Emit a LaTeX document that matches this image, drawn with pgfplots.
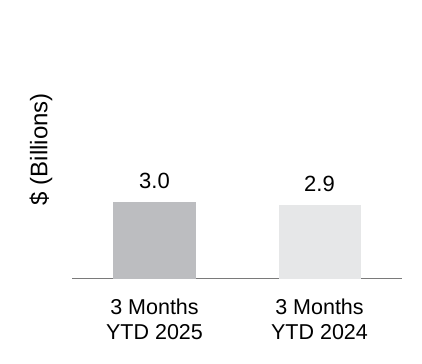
\documentclass[border=0pt]{standalone}
\usepackage{pgfplots}
\pgfplotsset{compat=1.18}
\usepackage{fontspec}
\setmainfont{Liberation Sans}
\definecolor{barA}{HTML}{BCBDC0}
\definecolor{barB}{HTML}{E6E7E8}
\definecolor{axisgray}{HTML}{7A7A7A}
\begin{document}
\begin{tikzpicture}
\path[use as bounding box] (0,0) rectangle (422bp,364bp);
\begin{axis}[
  at={(72bp,85.5bp)}, anchor=south west,
  scale only axis, width=330bp, height=259bp,
  xmin=-0.5, xmax=1.5, ymin=0, ymax=10.16,
  axis x line=bottom, axis y line=left,
  x axis line style={-, draw=axisgray, line width=1.3bp},
  y axis line style={draw=none},
  ytick=\empty,
  xtick={0,1}, xticklabels={{3 Months\\YTD 2025},{3 Months\\YTD 2024}},
  major tick length=0pt,
  xticklabel style={align=center, anchor=north, yshift=-17bp, font=\fontsize{21.5bp}{25bp}\selectfont},
  ylabel={\$ (Billions)},
  every axis y label/.style={at={(axis description cs:-0.0939,0.5)}, rotate=90, anchor=center, font=\fontsize{24bp}{28bp}\selectfont},
  bar width=82bp,
  nodes near coords,
  nodes near coords style={anchor=center, yshift=21bp, font=\fontsize{22bp}{26bp}\selectfont, /pgf/number format/.cd, fixed, fixed zerofill, precision=1, assume math mode=true},
  clip=false,
]
\addplot[ybar, fill=barA, draw=none] coordinates {(0,3.0)};
\addplot[ybar, fill=barB, draw=none] coordinates {(1,2.9)};
\end{axis}
\end{tikzpicture}
\end{document}
